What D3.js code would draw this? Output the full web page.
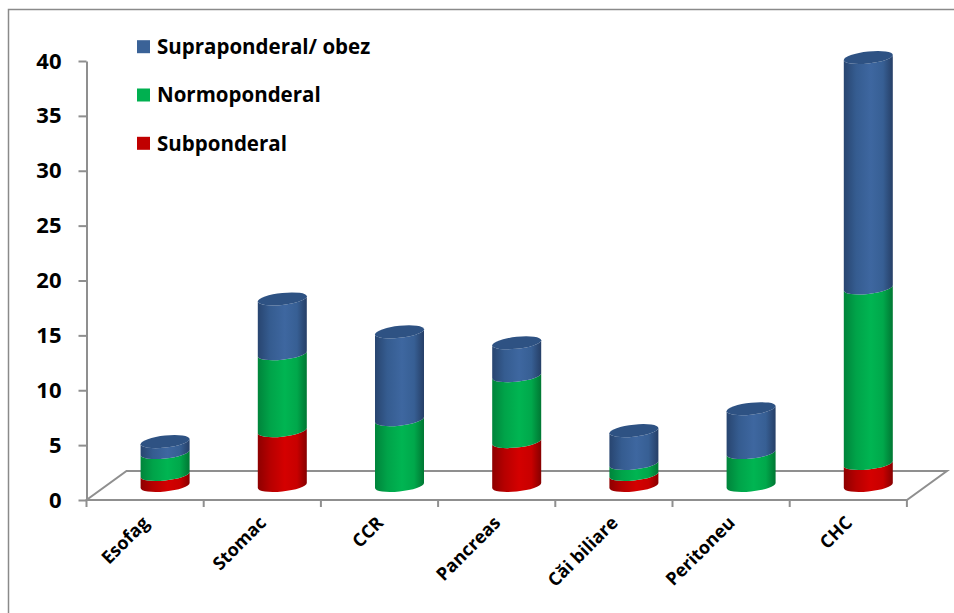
<!DOCTYPE html>
<html>
<head>
<meta charset="utf-8">
<script src="https://cdn.jsdelivr.net/npm/d3@7"></script>
<style>
  html, body { margin: 0; padding: 0; background: #fff; }
  svg { display: block; }
  text { font-family: "Open Sans", Lato, "Liberation Sans", sans-serif; font-weight: 700; fill: #000; }
</style>
</head>
<body>
<svg id="chart" width="954" height="613"></svg>
<script>
// Tumour localisation by weight status (stacked 3D cylinders)
const categories = ["Esofag", "Stomac", "CCR", "Pancreas", "Căi biliare", "Peritoneu", "CHC"];
const subponderal   = [1, 5, 0, 4, 1, 0, 2];
const normoponderal = [2, 7, 6, 6, 1, 3, 16];
const supraponderal = [1, 5, 8, 3, 3, 4, 21];
const seriesNames = ["Subponderal", "Normoponderal", "Supraponderal/ obez"];
const yTicks = [0, 5, 10, 15, 20, 25, 30, 35, 40];

const svg = d3.select("#chart");

// plot frame
const left = 86.5, right = 906.9, baseY = 500, topY = 61;
const depthX = 40, depthY = 29;            // floor depth offset
const rx = 24.5, ry = 6, skew = -6;         // cylinder geometry

const x = d3.scaleBand().domain(categories).range([left, right]).padding(0);
const y = d3.scaleLinear().domain([0, 40]).range([baseY, topY]);

// outer chart border
svg.append("rect")
  .attr("x", 8.5).attr("y", 9.5).attr("width", 1000).attr("height", 700)
  .attr("fill", "none").attr("stroke", "#8a8a8a").attr("stroke-width", 1.5);

// gradients for cylinder shading
const defs = svg.append("defs");
const palettes = {
  Subponderal:   { stops: ["#8e0000", "#b60000", "#d40000", "#c80000", "#860000"], top: "#b00000", key: "#c00000" },
  Normoponderal: { stops: ["#00843b", "#00a349", "#00b552", "#00a84b", "#007733"], top: "#00a047", key: "#00b050" },
  "Supraponderal/ obez": { stops: ["#284570", "#355c90", "#3e67a0", "#375f94", "#263f67"], top: "#2e5283", key: "#3a6297" }
};
seriesNames.forEach((name, i) => {
  const g = defs.append("linearGradient").attr("id", "grad" + i)
    .attr("x1", "0%").attr("x2", "100%").attr("y1", "0%").attr("y2", "0%");
  const offs = [0, 0.25, 0.55, 0.8, 1];
  palettes[name].stops.forEach((c, k) => g.append("stop").attr("offset", offs[k]).attr("stop-color", c));
});

// floor (base plane)
svg.append("path")
  .attr("d", `M${left},${baseY} L${right},${baseY} L${right + depthX},${baseY - depthY} L${left + depthX},${baseY - depthY} Z`)
  .attr("fill", "none").attr("stroke", "#8f8f8f").attr("stroke-width", 2);

// y axis
const yAxis = svg.append("g").attr("transform", `translate(${left},0)`)
  .call(d3.axisLeft(y).tickValues(yTicks).tickSize(8).tickPadding(17).tickSizeOuter(0));
yAxis.select(".domain").attr("stroke", "#8f8f8f").attr("stroke-width", 2);
yAxis.selectAll(".tick line").attr("stroke", "#8f8f8f").attr("stroke-width", 2);
yAxis.selectAll(".tick text").attr("font-size", 22).attr("font-family", "Open Sans").attr("font-weight", 700).attr("fill", "#000");

// x boundary ticks
const step = x.step();
svg.append("g").selectAll("line")
  .data(d3.range(categories.length + 1))
  .join("line")
  .attr("x1", i => left + i * step).attr("x2", i => left + i * step)
  .attr("y1", baseY).attr("y2", baseY + 7)
  .attr("stroke", "#8f8f8f").attr("stroke-width", 2);

// cylinders
const seriesValues = [subponderal, normoponderal, supraponderal];
const mid = y(0) - depthY / 2;  // base of cylinders sits mid-depth
const unit = y(0) - y(1);

categories.forEach((cat, ci) => {
  const cx = x(cat) + x.bandwidth() / 2 + depthX / 2;
  const g = svg.append("g").attr("transform", `translate(${cx},0) skewY(${skew})`);
  let cum = 0;
  let lastTop = null, lastIdx = null;
  seriesValues.forEach((vals, si) => {
    const v = vals[ci];
    if (v <= 0) return;
    const yb = mid - cum * unit;
    const yt = mid - (cum + v) * unit;
    cum += v;
    g.append("path")
      .attr("d", `M${-rx},${yt} L${-rx},${yb} A${rx},${ry} 0 0 0 ${rx},${yb} L${rx},${yt} A${rx},${ry} 0 0 1 ${-rx},${yt} Z`)
      .attr("fill", `url(#grad${si})`);
    lastTop = yt; lastIdx = si;
  });
  if (lastTop !== null) {
    g.append("ellipse")
      .attr("cx", 0).attr("cy", lastTop).attr("rx", rx).attr("ry", ry)
      .attr("fill", palettes[seriesNames[lastIdx]].top);
  }
});

// category labels
svg.append("g").selectAll("text")
  .data(categories)
  .join("text")
  .attr("transform", d => `translate(${x(d) + x.bandwidth() / 2 + 5},${baseY + 24}) rotate(-45)`)
  .attr("text-anchor", "end")
  .attr("font-size", 18)
  .text(d => d);

// legend
const legendOrder = [2, 1, 0];
const legend = svg.append("g");
legendOrder.forEach((si, k) => {
  const cy = 46.7 + k * 48.3;
  legend.append("rect")
    .attr("x", 137).attr("y", cy - 6.5).attr("width", 13).attr("height", 13)
    .attr("fill", palettes[seriesNames[si]].key);
  legend.append("text")
    .attr("x", 157).attr("y", cy).attr("dy", "0.36em")
    .attr("font-size", 20.5)
    .text(seriesNames[si]);
});
</script>
</body>
</html>
